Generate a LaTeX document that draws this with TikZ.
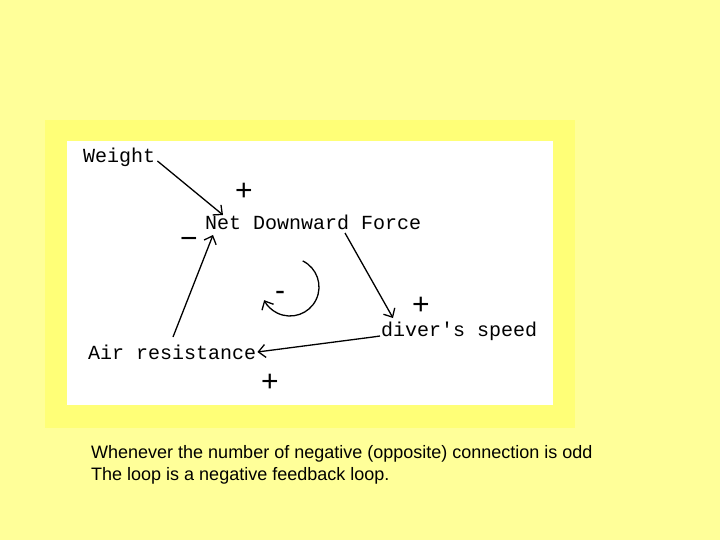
\documentclass[tikz,border=0pt]{standalone}
\usepackage{fontspec}
\setmainfont{Liberation Sans}
\newfontfamily\monofnt{Liberation Mono}
\usetikzlibrary{arrows.meta,calc}
\definecolor{bgyel}{HTML}{FFFF99}
\definecolor{frameyel}{HTML}{FFFF77}
\tikzset{
  lbl/.style={font=\monofnt\fontsize{20}{20}\selectfont, inner sep=0pt, anchor=west},
  sgn/.style={font=\fontsize{30}{30}\selectfont, inner sep=0pt, text height=0.55em, text depth=0pt},
  conn/.style={line width=1.3pt, -{Straight Barb[length=7pt,width=13pt,line width=1.3pt]}},
  note/.style={font=\fontsize{18}{20}\selectfont, inner sep=0pt, anchor=west}
}
\begin{document}
\begin{tikzpicture}[x=1pt,y=-1pt]
\useasboundingbox (0,0) rectangle (720,540);
\fill[bgyel] (0,0) rectangle (720,540);
\fill[frameyel] (45,120) rectangle (575,428);
\fill[white] (67,141) rectangle (553,405);

\node[lbl] (weight) at (83,157) {Weight};
\node[lbl] (net) at (205,222) {Net Downward Force};
\node[lbl] (speed) at (381,331) {diver's speed};
\node[lbl] (air) at (88,352) {Air resistance};

\node[sgn] (p1) at (244,198) {+};
\node[sgn] (m1) at (189,246) {−};
\node[sgn] (p2) at (421,312) {+};
\node[sgn] (p3) at (270,389) {+};
\node[sgn] (m2) at (280,298) {-};

\coordinate (w1) at ($(weight.east)+(2,4)$);
\coordinate (n1) at ($(net.west)+(18,-7)$);
\coordinate (n2) at ($(net.west)+(8,13)$);
\coordinate (n3) at ($(net.west)+(140,11)$);
\coordinate (s1) at ($(speed.west)+(12,-13)$);
\coordinate (s2) at ($(speed.west)+(-1,5)$);
\coordinate (s3) at ($(speed.west)+(-8,6)$);
\coordinate (a1) at ($(air.west)+(85,-15)$);
\coordinate (a2) at ($(air.east)+(1,0)$);

\draw[conn] (w1) -- (n1);
\draw[conn] (a1) -- (n2);
\draw[conn] (n3) -- (s1);
\draw[conn] (s2) -- (s3) -- (a2);
\coordinate (lc) at (290,287);
\draw[conn] ($(lc)+(-64:29)$) arc[start angle=-64, end angle=153, radius=29];

\node[note] (t1) at (91,454) {Whenever the number of negative (opposite) connection is odd};
\node[note] (t2) at (91,476) {The loop is a negative feedback loop.};
\end{tikzpicture}
\end{document}
